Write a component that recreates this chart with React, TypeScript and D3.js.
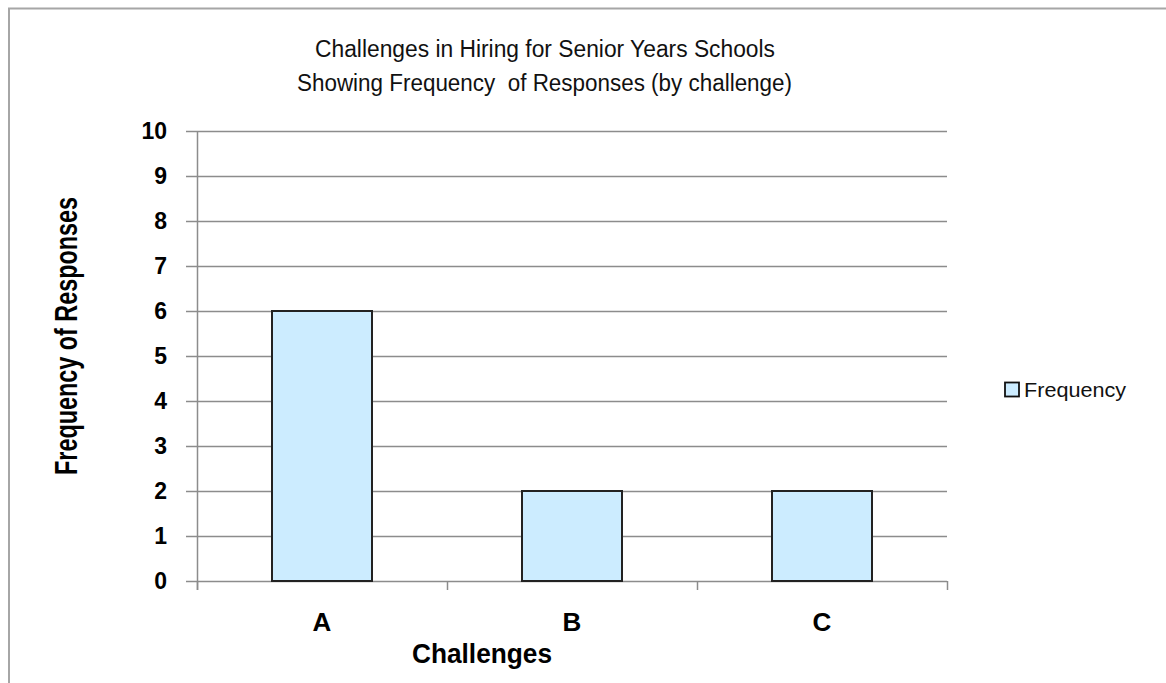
import React from "react";
import * as d3 from "d3";

const categories = ["A", "B", "C"];
const frequency = [6, 2, 2];
const yTicks = [0, 1, 2, 3, 4, 5, 6, 7, 8, 9, 10];
const titleLines = [
  "Challenges in Hiring for Senior Years Schools",
  "Showing Frequency  of Responses (by challenge)",
];
const seriesName = "Frequency";
const xTitle = "Challenges";
const yTitle = "Frequency of Responses";

const FONT = 'Arial, "Liberation Sans", sans-serif';
const BAR_FILL = "#CCECFF";
const GRID = "#8c8c8c";

export default function App() {
  const left = 197, right = 947, top = 131, bottom = 581;
  const x = d3.scaleBand<string>().domain(categories).range([left, right]).padding(0);
  const y = d3.scaleLinear().domain([0, 10]).range([bottom, top]);
  const barW = x.bandwidth() * 0.4;
  const xTickPositions = [...categories.map((c) => x(c)!), right];

  return (
    <svg
      width={1166}
      height={683}
      style={{ position: "absolute", left: 0, top: 0, background: "#fff" }}
    >
      <rect x={9} y={8.5} width={1200} height={700} fill="#fff" stroke="#a6a6a6" strokeWidth={2} />

      {/* title */}
      <text x={545} y={57} textAnchor="middle" fontFamily={FONT} fontSize={23} fill="#111" textLength={460} lengthAdjust="spacingAndGlyphs">
        {titleLines[0]}
      </text>
      <text x={544.5} y={91} textAnchor="middle" fontFamily={FONT} fontSize={23} fill="#111" textLength={495} lengthAdjust="spacingAndGlyphs" style={{ whiteSpace: "pre" }}>
        {titleLines[1]}
      </text>

      {/* gridlines */}
      {yTicks.map((t) => (
        <line key={"g" + t} x1={186} x2={right} y1={Math.round(y(t)) + 0.5} y2={Math.round(y(t)) + 0.5} stroke={GRID} strokeWidth={1.5} />
      ))}

      {/* y axis */}
      <line x1={left + 0.5} x2={left + 0.5} y1={top} y2={bottom + 9} stroke={GRID} strokeWidth={1.5} />
      {xTickPositions.map((p, i) => (
        <line key={"xt" + i} x1={p + 0.5} x2={p + 0.5} y1={bottom} y2={bottom + 9} stroke={GRID} strokeWidth={1.5} />
      ))}

      {/* y tick labels */}
      {yTicks.map((t) => (
        <text key={"yl" + t} x={167} y={y(t) + 8} textAnchor="end" fontFamily={FONT} fontWeight="bold" fontSize={23} fill="#000">
          {t}
        </text>
      ))}

      {/* bars */}
      {categories.map((c, i) => (
        <rect
          key={c}
          x={x(c)! + (x.bandwidth() - barW) / 2}
          y={y(frequency[i])}
          width={barW}
          height={y(0) - y(frequency[i])}
          fill={BAR_FILL}
          stroke="#222"
          strokeWidth={2}
        />
      ))}

      {/* x tick labels */}
      {categories.map((c) => (
        <text key={"xl" + c} x={x(c)! + x.bandwidth() / 2} y={631} textAnchor="middle" fontFamily={FONT} fontWeight="bold" fontSize={26} fill="#000">
          {c}
        </text>
      ))}

      {/* axis titles */}
      <text x={482} y={663} textAnchor="middle" fontFamily={FONT} fontWeight="bold" fontSize={28} fill="#000" textLength={140} lengthAdjust="spacingAndGlyphs">
        {xTitle}
      </text>
      <text
        transform="translate(77,336) rotate(-90)"
        textAnchor="middle"
        fontFamily={FONT}
        fontWeight="bold"
        fontSize={31}
        fill="#000"
        textLength={278}
        lengthAdjust="spacingAndGlyphs"
      >
        {yTitle}
      </text>

      {/* legend */}
      <rect x={1005} y={382.5} width={14} height={14} fill={BAR_FILL} stroke="#111" strokeWidth={1.8} />
      <text x={1024} y={397} fontFamily={FONT} fontSize={21} fill="#111" textLength={102} lengthAdjust="spacingAndGlyphs">
        {seriesName}
      </text>
    </svg>
  );
}
